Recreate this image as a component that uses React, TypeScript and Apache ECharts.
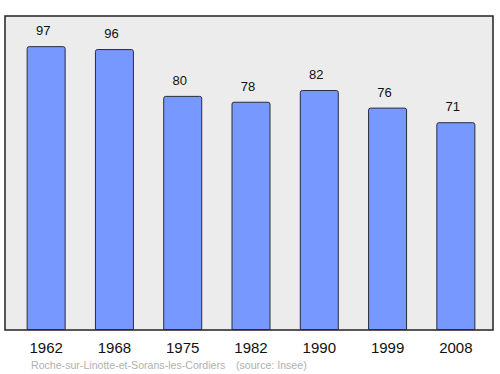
import React, { useEffect, useRef } from "react";
import * as echarts from "echarts";

const years = ["1962", "1968", "1975", "1982", "1990", "1999", "2008"];
const population = [97, 96, 80, 78, 82, 76, 71];
const communeName = "Roche-sur-Linotte-et-Sorans-les-Cordiers";
const sourceNote = "(source: Insee)";

export default function App() {
  const ref = useRef<HTMLDivElement>(null);
  useEffect(() => {
    const chart = echarts.init(ref.current!, null, { renderer: "svg" });
    const font = "Liberation Sans";
    const noteStyle = {
      fill: "#b0b0b0",
      fontSize: 10.6,
      fontFamily: font,
      verticalAlign: "middle",
    };
    chart.setOption({
      animation: false,
      textStyle: { fontFamily: font },
      graphic: [
        {
          type: "rect",
          z: -10,
          shape: { x: 5, y: 16, width: 488, height: 314 },
          style: { fill: "#ececec", stroke: "#222", lineWidth: 1.5 },
        },
        { type: "text", x: 31, y: 365, style: { ...noteStyle, text: communeName } },
        { type: "text", x: 236, y: 365, style: { ...noteStyle, text: sourceNote } },
      ],
      grid: { left: 12, width: 478, top: 16, bottom: 44 },
      xAxis: {
        type: "category",
        data: years,
        axisLine: { show: false },
        axisTick: { show: false },
        axisLabel: {
          color: "#111",
          fontSize: 15,
          margin: 10,
          fontFamily: font,
        },
      },
      yAxis: {
        type: "value",
        min: 0,
        max: 107.3,
        show: false,
        splitLine: { show: false },
      },
      series: [
        {
          type: "bar",
          data: population,
          barWidth: 39,
          itemStyle: {
            color: "#7799ff",
            borderColor: "#2a2a3a",
            borderWidth: 1,
            borderRadius: [2, 2, 0, 0],
          },
          label: {
            show: true,
            position: "top",
            distance: 9,
            offset: [-3, 0],
            color: "#111",
            fontSize: 13,
            fontFamily: font,
          },
        },
      ],
    });
    return () => chart.dispose();
  }, []);
  return <div ref={ref} style={{ width: 500, height: 374, position: "absolute", left: 0, top: 0 }} />;
}
